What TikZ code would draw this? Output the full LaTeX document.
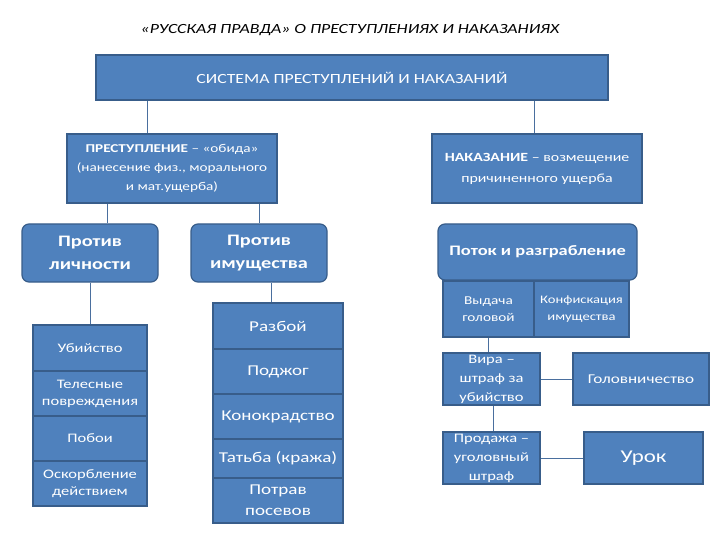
\documentclass[tikz,border=0pt]{standalone}
\usepackage{fontspec}
\setmainfont[FakeStretch=1.27]{Carlito}
\usepackage{xcolor}
\definecolor{boxfill}{HTML}{4F81BD}
\definecolor{boxline}{HTML}{385D8A}
\definecolor{wire}{HTML}{4A6F9E}
\newcommand{\fsz}[2]{\fontsize{#1}{#2}\selectfont}

\begin{document}
\begin{tikzpicture}[
    x=1pt, y=-1pt,
    blue box/.style={rectangle, draw=boxline, line width=1.2pt, fill=boxfill, text=white, align=center, inner sep=2pt},
    round box/.style={blue box, rounded corners=7pt},
    cell/.style={blue box, line width=1.6pt},
    wire line/.style={draw=wire, line width=0.8pt}
  ]
  \useasboundingbox (0,0) rectangle (720,540);
  \node[font=\fsz{14}{16}\itshape] (title) at (350,30) {«РУССКАЯ ПРАВДА» О ПРЕСТУПЛЕНИЯХ И НАКАЗАНИЯХ};
  \node[blue box, minimum width=512pt, minimum height=45pt, font=\fsz{14}{16}] (sys) at (352,77.5) {СИСТЕМА ПРЕСТУПЛЕНИЙ И НАКАЗАНИЙ};
  \node[blue box, minimum width=210pt, minimum height=69pt, font=\fsz{12}{19}] (crime) at (172,168.5) {\textbf{ПРЕСТУПЛЕНИЕ} – «обида»\\(нанесение физ., морального\\и мат.ущерба)};
  \node[blue box, minimum width=210pt, minimum height=69pt, font=\fsz{12.5}{21}] (pun) at (537,168.5) {\textbf{НАКАЗАНИЕ} – возмещение\\причиненного ущерба};
  \node[round box, minimum width=136pt, minimum height=58pt, font=\fsz{16}{23}\bfseries] (lich) at (90,253) {Против\\личности};
  \node[round box, minimum width=136pt, minimum height=58pt, font=\fsz{16}{23}\bfseries] (imu) at (259,253) {Против\\имущества};
  \node[round box, minimum width=199pt, minimum height=56pt, font=\fsz{14.5}{18}\bfseries] (potok) at (537.5,252) {Поток и разграбление};
  \node[cell, minimum width=91pt, minimum height=56pt, font=\fsz{12}{17}] (vyd) at (488.5,309) {Выдача\\головой};
  \node[cell, minimum width=95pt, minimum height=56pt, font=\fsz{11.5}{17}] (konf) at (581.5,309) {Конфискация\\имущества};
  \node[cell, minimum width=97pt, minimum height=52pt, font=\fsz{13}{19}, inner sep=0pt] (vira) at (491.5,379) {Вира –\\штраф за\\убийство};
  \node[cell, minimum width=136pt, minimum height=52pt, font=\fsz{13.5}{16}] (golov) at (641,379) {Головничество};
  \node[cell, minimum width=97pt, minimum height=52pt, font=\fsz{13}{19}, inner sep=0pt] (prod) at (491.5,458) {Продажа –\\уголовный\\штраф};
  \node[cell, minimum width=119pt, minimum height=52pt, font=\fsz{18}{20}] (urok) at (643.5,458) {Урок};
  \node[cell, minimum width=114pt, minimum height=46pt, font=\fsz{13}{17}] (ubi) at (90,348) {Убийство};
  \node[cell, minimum width=114pt, minimum height=45pt, font=\fsz{13}{17}] (tel) at (90,393.5) {Телесные\\повреждения};
  \node[cell, minimum width=114pt, minimum height=45pt, font=\fsz{13}{17}] (pob) at (90,438.5) {Побои};
  \node[cell, minimum width=114pt, minimum height=45pt, font=\fsz{13}{17}] (osk) at (90,483.5) {Оскорбление\\действием};
  \node[cell, minimum width=130pt, minimum height=46pt, font=\fsz{15}{21}] (razb) at (278,326) {Разбой};
  \node[cell, minimum width=130pt, minimum height=45pt, font=\fsz{15}{21}] (podj) at (278,371.5) {Поджог};
  \node[cell, minimum width=130pt, minimum height=45pt, font=\fsz{15}{21}] (kon) at (278,416.5) {Конокрадство};
  \node[cell, minimum width=130pt, minimum height=39pt, font=\fsz{15}{21}] (tat) at (278,458.5) {Татьба (кража)};
  \node[cell, minimum width=130pt, minimum height=45pt, font=\fsz{15}{21}, inner sep=0pt] (potr) at (278,500.5) {Потрав\\посевов};
  \draw[wire line] ([xshift=-25pt]crime.north) -- ([xshift=-25pt]crime.north |- sys.south);
  \draw[wire line] ([xshift=-3pt]pun.north) -- ([xshift=-3pt]pun.north |- sys.south);
  \draw[wire line] ([xshift=17pt]lich.north) -- ([xshift=17pt]lich.north |- crime.south);
  \draw[wire line] (imu.north) -- (imu.north |- crime.south);
  \draw[wire line] (lich.south) -- (ubi.north);
  \draw[wire line] ([xshift=-7pt]razb.north) -- ([xshift=-7pt]razb.north |- imu.south);
  \draw[wire line] (vyd.south) -- (vyd.south |- vira.north);
  \draw[wire line] ([xshift=1.5pt]vira.south) -- ([xshift=1.5pt]vira.south |- prod.north);
  \draw[wire line] (vira.east) -- (golov.west);
  \draw[wire line] (prod.east) -- (urok.west);
\end{tikzpicture}
\end{document}
